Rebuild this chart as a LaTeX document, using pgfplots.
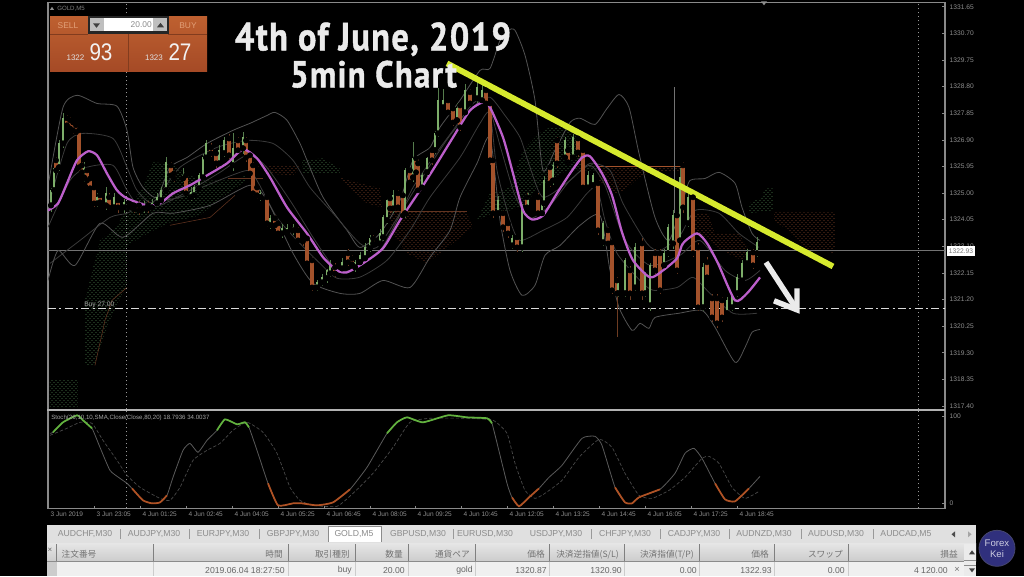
\documentclass[border=0pt]{standalone}
\usepackage{graphicx}
\usepackage{fontspec}
\setmainfont{Liberation Sans}
\newfontfamily\cjk{Noto Sans CJK JP}
\newfontfamily\titlefont[LetterSpace=4,FakeBold=1.2]{PT Sans}
\usepackage{pgfplots}
\usepackage{pgfplotstable}
\pgfplotsset{compat=1.18}
\usetikzlibrary{patterns}
\definecolor{cup}{HTML}{7DAE6A}
\definecolor{cdn}{HTML}{A3522B}
\definecolor{wup}{HTML}{557C4C}
\definecolor{wdn}{HTML}{6E3C22}
\definecolor{pur}{HTML}{BC5FCB}
\definecolor{bbo}{HTML}{525252}
\definecolor{bbi}{HTML}{3A3A3A}
\definecolor{cg}{HTML}{3A5F3A}
\definecolor{co}{HTML}{633420}
\definecolor{frm}{HTML}{8A8A8A}
\definecolor{tk}{HTML}{8E8E8E}
\definecolor{tabt}{HTML}{8C8C8C}
\definecolor{yel}{HTML}{D6EA2E}
\definecolor{sgl}{HTML}{4A4A4A}
\definecolor{smn}{HTML}{5A5A5A}
\definecolor{sgr}{HTML}{62B23E}
\definecolor{sor}{HTML}{B05224}
% columns: x position on the time axis, open, close, low, high
\pgfplotstableread{
x o c l h
51 1324.56 1325.10 1324.31 1325.17
54 1325.10 1325.88 1325.00 1326.00
59 1325.92 1326.77 1325.80 1326.90
63 1326.77 1327.67 1326.60 1327.85
84 1325.56 1325.99 1325.40 1326.10
97 1324.63 1324.85 1324.50 1325.00
106 1324.56 1324.99 1324.40 1325.20
114 1324.49 1324.85 1324.40 1325.00
124 1324.49 1324.67 1324.30 1324.80
144 1324.45 1324.56 1324.30 1324.70
152 1324.49 1324.63 1324.40 1324.80
157 1324.63 1324.85 1324.50 1325.00
161 1324.74 1325.10 1324.60 1325.20
166 1325.10 1326.10 1325.00 1326.30
183 1325.52 1325.63 1325.40 1325.90
191 1324.85 1325.03 1324.70 1325.20
194 1324.92 1325.20 1324.80 1325.30
199 1325.17 1325.63 1325.10 1325.70
203 1325.56 1326.27 1325.50 1326.40
206 1326.27 1326.77 1326.20 1326.90
219 1326.06 1326.53 1325.90 1326.70
224 1326.42 1326.88 1326.30 1327.00
233 1325.99 1326.60 1325.80 1327.13
243 1326.60 1326.99 1326.40 1327.17
260 1324.85 1324.99 1324.70 1325.10
270 1323.85 1324.10 1323.70 1324.20
282 1323.56 1323.74 1323.40 1323.90
287 1323.60 1323.74 1323.50 1323.90
293 1323.67 1323.78 1323.50 1323.90
317 1321.63 1321.81 1321.50 1321.90
322 1321.81 1321.99 1321.70 1322.10
327 1321.96 1322.24 1321.80 1322.30
330 1322.13 1322.42 1322.00 1322.60
342 1322.31 1322.53 1322.20 1322.70
355 1322.35 1322.53 1322.20 1322.60
360 1322.53 1322.78 1322.40 1322.90
365 1322.67 1323.06 1322.60 1323.20
370 1323.03 1323.38 1322.90 1323.50
380 1323.20 1323.56 1323.10 1323.70
383 1323.42 1324.13 1323.30 1324.20
387 1324.03 1324.74 1323.90 1324.80
393 1324.45 1324.92 1324.30 1325.10
405 1324.28 1325.81 1324.10 1325.90
413 1325.56 1326.24 1325.40 1326.81
422 1325.20 1325.63 1325.10 1325.70
427 1325.74 1326.24 1325.60 1326.30
435 1326.53 1327.13 1326.40 1327.20
438 1327.13 1328.31 1327.00 1328.74
443 1328.06 1328.31 1328.00 1328.70
457 1327.60 1328.02 1327.50 1328.20
465 1327.88 1328.67 1327.80 1328.90
477 1328.38 1328.77 1328.20 1329.00
482 1328.31 1328.67 1328.20 1328.90
498 1324.28 1324.74 1324.20 1324.90
512 1323.13 1323.38 1323.00 1323.50
522 1323.06 1324.49 1322.90 1324.60
528 1324.38 1324.85 1324.30 1325.00
542 1324.28 1324.63 1324.20 1324.70
544 1324.63 1325.45 1324.50 1325.60
553 1325.45 1325.99 1325.30 1326.10
565 1326.27 1326.88 1326.20 1327.00
573 1326.27 1326.99 1326.20 1327.10
588 1325.20 1325.63 1325.10 1325.80
593 1325.28 1325.63 1325.20 1325.70
603 1323.24 1323.92 1323.10 1324.00
618 1321.42 1321.78 1321.30 1321.90
625 1321.42 1322.60 1321.30 1322.70
635 1321.63 1323.06 1321.50 1323.20
645 1321.42 1322.13 1321.30 1322.20
650 1320.99 1322.42 1320.80 1322.50
664 1322.42 1322.85 1322.30 1323.00
668 1322.85 1323.78 1322.70 1323.90
673 1323.20 1324.20 1323.00 1324.40
680 1323.31 1325.56 1323.20 1325.90
688 1323.92 1324.85 1323.80 1325.00
703 1320.92 1322.35 1320.80 1322.50
727 1320.71 1321.17 1320.60 1321.30
732 1320.92 1321.35 1320.80 1321.40
737 1321.42 1321.99 1321.30 1322.10
742 1321.88 1322.49 1321.80 1322.60
747 1322.49 1322.88 1322.40 1323.00
757 1322.85 1323.24 1322.70 1323.42
}\upcandles
\pgfplotstableread{
x o c l h
56 1326.17 1325.81 1325.70 1326.30
67 1327.67 1327.42 1327.30 1327.80
70 1327.60 1327.31 1327.20 1327.70
73 1327.52 1327.24 1327.10 1327.60
76 1327.42 1327.17 1327.10 1327.50
79 1327.24 1325.92 1325.80 1327.30
82 1325.99 1325.74 1325.60 1326.10
87 1325.81 1325.45 1325.30 1325.90
90 1325.52 1325.17 1325.10 1325.60
94 1325.20 1324.63 1324.50 1325.30
100 1324.92 1324.67 1324.60 1325.00
109 1324.85 1324.49 1324.40 1325.00
118 1324.74 1324.49 1324.30 1324.80
129 1324.63 1324.49 1324.40 1324.80
134 1324.56 1324.42 1324.30 1324.70
139 1324.56 1324.38 1324.20 1324.70
148 1324.56 1324.45 1324.30 1324.70
171 1325.99 1325.63 1325.50 1326.10
174 1325.70 1325.52 1325.40 1325.80
186 1325.63 1324.99 1324.90 1325.70
211 1326.63 1326.42 1326.30 1326.80
216 1326.42 1326.06 1325.90 1326.50
229 1326.95 1326.35 1326.20 1327.10
238 1326.88 1326.53 1326.40 1327.00
246 1326.88 1326.27 1326.10 1327.00
250 1326.35 1325.70 1325.60 1326.40
253 1325.99 1324.99 1324.90 1326.10
257 1325.20 1324.92 1324.80 1325.30
267 1324.85 1323.92 1323.80 1324.90
275 1324.10 1323.85 1323.70 1324.20
278 1323.92 1323.56 1323.50 1324.00
298 1323.67 1323.31 1323.20 1323.80
303 1323.42 1323.28 1323.10 1323.50
307 1323.38 1322.49 1322.40 1323.50
312 1322.60 1321.63 1321.50 1322.70
335 1322.35 1322.13 1322.00 1322.50
348 1322.85 1322.53 1322.40 1323.00
352 1322.67 1322.46 1322.30 1322.80
373 1323.38 1323.20 1323.10 1323.50
390 1324.81 1324.45 1324.30 1324.90
398 1324.99 1324.49 1324.40 1325.10
403 1324.92 1324.20 1324.10 1325.00
410 1325.81 1325.38 1325.30 1325.90
416 1326.24 1325.74 1325.60 1326.30
418 1326.06 1325.10 1325.00 1326.20
432 1326.53 1326.17 1326.00 1326.60
448 1328.31 1327.88 1327.80 1328.40
453 1328.02 1327.52 1327.40 1328.10
460 1328.13 1327.35 1327.20 1328.20
470 1328.60 1328.20 1328.10 1328.70
486 1328.67 1328.20 1328.10 1328.80
490 1328.20 1326.17 1326.00 1328.30
493 1326.17 1324.28 1324.10 1326.30
503 1324.28 1323.78 1323.60 1324.40
508 1323.92 1323.56 1323.40 1324.00
517 1323.42 1323.06 1322.90 1323.50
527 1324.85 1324.49 1324.40 1325.00
538 1324.85 1324.28 1324.20 1325.00
550 1325.92 1325.35 1325.20 1326.00
557 1326.88 1326.06 1325.90 1327.00
568 1326.53 1326.10 1326.00 1326.60
578 1326.95 1326.45 1326.30 1327.10
583 1326.53 1325.20 1325.10 1326.60
598 1325.35 1323.67 1323.50 1325.40
608 1323.67 1323.20 1323.10 1323.80
612 1323.24 1321.53 1321.40 1323.30
617 1321.88 1321.42 1319.85 1322.00
630 1322.24 1321.42 1321.20 1322.40
642 1323.20 1321.42 1321.20 1323.40
655 1322.85 1322.24 1322.10 1323.00
660 1322.85 1321.53 1321.40 1323.00
677 1324.20 1322.24 1322.10 1324.30
683 1325.99 1324.49 1324.30 1326.10
693 1324.85 1322.85 1322.70 1325.00
698 1323.06 1320.92 1320.80 1323.20
707 1322.53 1321.99 1321.90 1322.70
712 1321.24 1320.56 1320.40 1321.40
717 1321.24 1320.35 1320.20 1321.40
722 1321.17 1320.56 1320.40 1321.30
753 1322.88 1322.42 1322.30 1323.00
}\downcandles
\pgfplotstableread{
x s
50 80.4
53 81.6
63 93.1
77 101.1
83 95.4
92 86.2
100 64.3
110 37.9
120 28.7
127 23.0
132 17.2
143 3.4
152 0
160 1.1
167 9.2
173 29.9
183 60.9
190 68.9
198 58.6
207 72.4
217 83.9
225 96.5
237 90.8
245 93.1
249 87.3
257 60.9
268 23.0
278 -2.3
293 0
302 0
317 -2.3
333 1.1
350 16.1
367 41.4
387 80.4
397 93.1
407 98.8
423 93.1
448 101.1
467 98.8
487 97.7
492 91.9
507 23.0
512 6.9
519 -3.4
529 6.9
539 17.2
549 29.9
562 43.7
582 74.7
595 77.0
602 66.6
615 18.4
625 1.1
632 0
639 6.9
660 16.1
675 34.5
685 57.5
694 63.2
702 51.7
715 23.0
725 4.6
735 2.3
749 17.2
760 31.0
}\stochmain
\pgfplotstableread{
x s
50 78.1
67 86.2
80 93.1
92 91.9
103 72.4
117 49.4
127 32.2
140 18.4
160 5.7
170 3.4
180 18.4
193 49.4
207 60.9
220 68.9
233 83.9
247 93.1
263 81.6
277 57.5
290 18.4
300 3.4
313 -2.3
337 -3.4
353 11.5
373 34.5
393 64.3
410 93.1
430 97.7
467 97.7
493 95.4
507 80.4
515 46.0
525 14.9
535 5.7
545 11.5
562 26.4
579 52.9
599 73.5
612 64.3
625 34.5
639 9.2
652 5.7
669 14.9
685 29.9
702 51.7
709 54.0
719 46.0
732 18.4
745 5.7
759 13.8
}\stochsignal
\begin{document}
\begin{tikzpicture}
\begin{scope}[x=0.75pt,y=-0.75pt]
\useasboundingbox (0,0) rectangle (1024,576);
\fill[black] (0,0) rectangle (1024,576);
\end{scope}
% ---------- price panel ----------
\begin{axis}[
  at={(36pt,-306.75pt)},anchor=south west,
  scale only axis,width=672.75pt,height=305.25pt,
  xmin=48,xmax=945,ymin=1317.28,ymax=1331.81,
  axis line style={frm,line width=0.8pt},
  xtick=\empty,
  ytick={1317.40,1318.35,1319.30,1320.25,1321.20,1322.15,1323.10,1324.05,1325.00,1325.95,1326.90,1327.85,1328.80,1329.75,1330.70,1331.65},
  ytick pos=right,yticklabel pos=right,
  tick style={frm,line width=0.5pt},major tick length=2pt,
  yticklabel style={font=\fontsize{5}{6}\selectfont,text=tk,xshift=0pt,
    /pgf/number format/.cd,fixed,fixed zerofill,precision=2,1000 sep={},assume math mode=true},
]
% clouds
\addplot[draw=none,forget plot,pattern=crosshatch dots,pattern color=cg] coordinates {(50,1318.31)(78,1318.31)(78,1317.35)(50,1317.35)(50,1318.31)};
\addplot[draw=none,forget plot,pattern=crosshatch dots,pattern color=cg] coordinates {(85,1321.17)(100,1323.31)(115,1323.74)(130,1324.56)(143,1325.20)(153,1326.10)(170,1326.06)(190,1325.63)(200,1325.45)(230,1325.45)(247,1325.63)(247,1325.45)(225,1324.92)(200,1324.20)(170,1323.95)(150,1323.60)(127,1323.13)(127,1321.71)(110,1320.46)(95,1318.85)(85,1318.85)(85,1321.17)};
\addplot[co,line width=0.4pt,forget plot] coordinates {(95,1318.85)(105,1320.46)(112,1321.17)(127,1321.63)};
\addplot[co,line width=0.4pt,forget plot] coordinates {(170,1323.85)(210,1324.13)(235,1324.92)};
\addplot[draw=none,forget plot,pattern=crosshatch dots,pattern color=cg] coordinates {(302,1326.17)(323,1326.24)(340,1325.88)(340,1325.70)(303,1325.70)(302,1326.17)};
\addplot[draw=none,forget plot,pattern=crosshatch dots,pattern color=co] coordinates {(257,1325.99)(302,1325.99)(293,1325.63)(267,1325.70)(257,1325.99)};
\addplot[co,line width=0.6pt,forget plot] coordinates {(228,1325.53)(263,1325.53)};
\addplot[draw=none,forget plot,pattern=crosshatch dots,pattern color=co] coordinates {(340,1325.56)(357,1325.38)(380,1325.17)(382,1324.49)(367,1324.63)(353,1325.10)(340,1325.56)};
\addplot[draw=none,forget plot,pattern=crosshatch dots,pattern color=co] coordinates {(388,1324.38)(467,1324.31)(473,1323.78)(453,1323.20)(427,1322.49)(407,1322.85)(393,1323.56)(388,1324.38)};
\addplot[co,line width=0.6pt,forget plot] coordinates {(388,1324.36)(467,1324.36)};
\addplot[draw=none,forget plot,pattern=crosshatch dots,pattern color=cg] coordinates {(477,1324.03)(490,1324.99)(510,1325.20)(523,1326.53)(539,1327.13)(550,1327.35)(567,1327.35)(577,1326.99)(583,1326.06)(597,1326.06)(597,1325.81)(567,1325.81)(537,1325.20)(527,1324.63)(510,1324.38)(493,1324.28)(477,1324.03)};
\addplot[draw=none,forget plot,pattern=crosshatch dots,pattern color=co] coordinates {(599,1325.95)(685,1325.95)(685,1325.81)(650,1325.74)(639,1325.56)(625,1325.10)(615,1324.99)(599,1325.45)(599,1325.95)};
\addplot[cdn,line width=0.7pt,forget plot] coordinates {(599,1325.95)(685,1325.95)};
\addplot[draw=none,forget plot,pattern=crosshatch dots,pattern color=co] coordinates {(695,1324.28)(709,1324.28)(715,1323.56)(739,1323.56)(749,1322.95)(742,1322.60)(722,1322.95)(709,1323.31)(695,1323.67)(695,1324.28)};
\addplot[draw=none,forget plot,pattern=crosshatch dots,pattern color=cg] coordinates {(749,1324.63)(762,1324.85)(765,1325.17)(773,1325.17)(773,1324.38)(749,1324.28)(749,1324.63)};
\addplot[draw=none,forget plot,pattern=crosshatch dots,pattern color=co] coordinates {(774,1324.31)(835,1324.31)(835,1322.85)(805,1323.03)(792,1323.56)(774,1324.03)(774,1324.31)};
% price lines
\addplot[color=black!55!white,line width=0.7pt,forget plot] coordinates {(48,1322.95)(945,1322.95)};
\addplot[white,opacity=0.85,line width=0.7pt,dash pattern=on 6pt off 2.5pt on 1.5pt off 2.5pt,forget plot] coordinates {(48,1320.88)(945,1320.88)};
\addplot[white,opacity=0.6,line width=0.6pt,dash pattern=on 1pt off 2pt,forget plot] coordinates {(126,1317.28)(126,1331.81)};
\addplot[white,opacity=0.6,line width=0.6pt,dash pattern=on 1pt off 2pt,forget plot] coordinates {(918,1317.28)(918,1331.81)};
% Bollinger bands
\addplot[bbo,line width=0.6pt,smooth,tension=0.4,forget plot] coordinates {(49,1325.45)(63,1328.06)(77,1328.49)(97,1328.20)(117,1328.10)(127,1327.24)(133,1325.92)(143,1325.20)(157,1324.85)(170,1325.92)(187,1326.27)(207,1326.77)(233,1327.24)(250,1327.49)(267,1327.77)(275,1327.88)(287,1327.60)(300,1326.77)(307,1326.17)(323,1324.85)(347,1323.67)(360,1323.06)(380,1323.56)(400,1324.74)(413,1326.17)(430,1326.63)(440,1327.35)(460,1328.31)(480,1329.38)(490,1329.45)(500,1330.45)(508,1330.81)(515,1330.81)(525,1329.92)(535,1328.31)(543,1325.81)(555,1326.53)(570,1327.52)(580,1327.67)(595,1327.45)(607,1328.02)(619,1328.52)(629,1328.06)(639,1326.42)(655,1324.13)(669,1323.31)(683,1324.74)(690,1325.45)(705,1325.52)(719,1325.74)(735,1325.35)(742,1324.49)(752,1323.56)(760,1323.31)};
\addplot[bbi,line width=0.6pt,smooth,tension=0.4,forget plot] coordinates {(50,1324.74)(67,1326.77)(83,1327.13)(113,1326.95)(127,1325.92)(137,1325.10)(153,1324.67)(180,1325.92)(217,1326.63)(247,1326.88)(273,1326.77)(293,1326.17)(310,1325.20)(333,1324.28)(360,1323.20)(377,1323.06)(400,1324.28)(413,1325.20)(433,1326.27)(453,1327.24)(473,1328.20)(490,1328.42)(505,1327.77)(520,1326.99)(530,1325.92)(543,1324.85)(570,1325.45)(590,1326.06)(610,1325.81)(623,1324.63)(647,1323.20)(660,1322.95)(680,1323.49)(695,1324.38)(719,1324.28)(739,1323.56)(759,1323.06)};
\addplot[bbi,line width=0.6pt,smooth,tension=0.4,forget plot] coordinates {(48,1323.78)(70,1325.45)(87,1325.92)(113,1325.99)(127,1325.10)(140,1324.49)(160,1324.56)(190,1325.10)(220,1325.74)(247,1326.35)(265,1325.99)(290,1324.74)(315,1323.31)(335,1322.31)(350,1322.24)(380,1322.95)(405,1324.56)(430,1325.99)(450,1327.06)(475,1328.13)(487,1328.31)(500,1326.70)(515,1324.92)(530,1324.10)(550,1324.56)(570,1325.45)(590,1325.99)(605,1325.28)(625,1323.31)(650,1322.42)(680,1322.78)(700,1323.31)(725,1322.24)(745,1321.88)(760,1322.24)};
\addplot[bbi,line width=0.6pt,smooth,tension=0.4,forget plot] coordinates {(50,1322.49)(80,1323.31)(110,1324.13)(127,1324.28)(147,1324.63)(180,1324.85)(207,1325.28)(247,1325.81)(257,1325.45)(277,1324.13)(300,1323.20)(320,1322.49)(337,1321.96)(360,1322.00)(387,1322.60)(410,1323.67)(430,1324.85)(460,1326.27)(480,1327.49)(490,1327.85)(497,1325.81)(510,1324.03)(520,1323.31)(543,1323.67)(567,1324.13)(587,1324.99)(597,1325.20)(605,1324.03)(617,1322.85)(640,1321.88)(653,1321.53)(677,1321.63)(693,1321.99)(710,1321.42)(733,1320.71)(757,1320.71)};
\addplot[bbo,line width=0.6pt,smooth,tension=0.4,forget plot] coordinates {(48,1321.88)(58,1322.95)(75,1322.42)(100,1323.92)(123,1323.42)(153,1324.28)(173,1324.28)(210,1324.56)(250,1325.28)(267,1324.74)(293,1322.85)(313,1321.78)(340,1321.42)(360,1321.42)(383,1321.88)(410,1321.63)(430,1322.71)(450,1323.67)(460,1324.85)(477,1326.06)(490,1326.99)(500,1324.03)(510,1322.24)(522,1321.35)(535,1321.71)(545,1322.78)(560,1323.13)(580,1323.85)(600,1324.20)(610,1322.24)(619,1320.92)(632,1320.10)(640,1320.35)(649,1320.17)(655,1320.56)(679,1320.71)(702,1320.81)(715,1320.21)(735,1318.96)(745,1319.49)(752,1320.03)(760,1320.13)};
% candles: wicks, then bodies
\addplot[color=black!55!white,line width=0.5pt,forget plot] coordinates {(674,1324.3)(674,1328.80)};
\addplot[only marks,mark=none,forget plot,error bars/.cd,y dir=both,y explicit,error mark=none,error bar style={line width=0.6pt,wup}]
  table[x=x,y=o,y error plus expr=\thisrow{h}-\thisrow{o},y error minus expr=\thisrow{o}-\thisrow{l}] {\upcandles};
\addplot[only marks,mark=none,forget plot,error bars/.cd,y dir=both,y explicit,error mark=none,error bar style={line width=0.6pt,wdn}]
  table[x=x,y=o,y error plus expr=\thisrow{h}-\thisrow{o},y error minus expr=\thisrow{o}-\thisrow{l}] {\downcandles};
\addplot[only marks,mark=none,forget plot,error bars/.cd,y dir=plus,y explicit,error mark=none,error bar style={line width=2.5pt,cdn}]
  table[x=x,y=c,y error plus expr=\thisrow{o}-\thisrow{c}] {\downcandles};
\addplot[only marks,mark=none,forget plot,error bars/.cd,y dir=plus,y explicit,error mark=none,error bar style={line width=2.1pt,cup}]
  table[x=x,y=o,y error plus expr=\thisrow{c}-\thisrow{o}] {\upcandles};
% moving average
\addplot[pur,line width=1.7pt,smooth,tension=0.4,forget plot] coordinates {(48,1324.38)(58,1324.63)(67,1325.35)(77,1326.17)(88,1326.49)(97,1326.35)(107,1325.70)(117,1325.10)(127,1324.81)(147,1324.56)(160,1324.63)(173,1324.99)(190,1325.28)(207,1325.63)(227,1326.06)(243,1326.56)(257,1326.24)(270,1325.56)(287,1324.49)(307,1323.56)(323,1322.71)(337,1322.24)(347,1322.17)(363,1322.49)(383,1323.03)(400,1324.03)(420,1325.10)(437,1326.06)(453,1326.99)(470,1327.95)(483,1328.24)(490,1328.06)(503,1326.99)(513,1325.70)(523,1324.38)(532,1324.06)(543,1324.20)(557,1324.99)(570,1325.70)(582,1326.27)(590,1326.31)(602,1325.70)(612,1324.92)(622,1323.60)(633,1322.60)(650,1321.99)(663,1322.24)(677,1322.67)(683,1323.21)(697,1323.56)(707,1323.21)(718,1322.49)(735,1321.17)(747,1321.42)(760,1321.99)};
% trend line
\addplot[yel,line width=4.4pt,forget plot] coordinates {(447,1329.63)(833,1322.38)};
\end{axis}
% ---------- stochastic panel ----------
\begin{axis}[
  at={(36pt,-381pt)},anchor=south west,
  scale only axis,width=672.75pt,height=74.25pt,
  xmin=48,xmax=945,ymin=-5.7,ymax=108,
  axis line style={frm,line width=0.8pt},
  xtick={48,94,140,186,232,278,324,370,415,461,507,553,599,645,691,737},
  xticklabels={3 Jun 2019,3 Jun 23:05,4 Jun 01:25,4 Jun 02:45,4 Jun 04:05,4 Jun 05:25,4 Jun 06:45,4 Jun 08:05,4 Jun 09:25,4 Jun 10:45,4 Jun 12:05,4 Jun 13:25,4 Jun 14:45,4 Jun 16:05,4 Jun 17:25,4 Jun 18:45},
  xtick pos=bottom,
  xticklabel style={font=\fontsize{4.9}{6}\selectfont,text=tk,anchor=north west,xshift=-1.5pt,yshift=0.5pt},
  ytick={0,100},ytick pos=right,yticklabel pos=right,
  tick style={frm,line width=0.5pt},major tick length=2pt,
  yticklabel style={font=\fontsize{5}{6}\selectfont,text=tk,/pgf/number format/assume math mode=true},
]
\addplot[white,opacity=0.6,line width=0.6pt,dash pattern=on 1pt off 2pt,forget plot] coordinates {(126,-5.7)(126,108)};
\addplot[white,opacity=0.6,line width=0.6pt,dash pattern=on 1pt off 2pt,forget plot] coordinates {(918,-5.7)(918,108)};
\addplot[sgl,line width=0.5pt,dash pattern=on 2.5pt off 1.5pt,smooth,tension=0.3,forget plot] table[x=x,y=s] {\stochsignal};
\addplot[smn,line width=0.6pt,smooth,tension=0.3,forget plot] table[x=x,y=s] {\stochmain};
\addplot[sgr,line width=1.3pt,smooth,tension=0.3,forget plot,restrict x to domain=53:92] table[x=x,y=s] {\stochmain};
\addplot[sgr,line width=1.3pt,smooth,tension=0.3,forget plot,restrict x to domain=217:249] table[x=x,y=s] {\stochmain};
\addplot[sgr,line width=1.3pt,smooth,tension=0.3,forget plot,restrict x to domain=387:492] table[x=x,y=s] {\stochmain};
\addplot[sor,line width=1.3pt,smooth,tension=0.3,forget plot,restrict x to domain=132:167] table[x=x,y=s] {\stochmain};
\addplot[sor,line width=1.3pt,smooth,tension=0.3,forget plot,restrict x to domain=268:350] table[x=x,y=s] {\stochmain};
\addplot[sor,line width=1.3pt,smooth,tension=0.3,forget plot,restrict x to domain=512:539] table[x=x,y=s] {\stochmain};
\addplot[sor,line width=1.3pt,smooth,tension=0.3,forget plot,restrict x to domain=615:660] table[x=x,y=s] {\stochmain};
\addplot[sor,line width=1.3pt,smooth,tension=0.3,forget plot,restrict x to domain=715:749] table[x=x,y=s] {\stochmain};
\end{axis}
% ---------- overlays in pixel positions ----------
\begin{scope}[x=0.75pt,y=-0.75pt]
% divider between panels
\draw[color=black!30!white,line width=1.5pt] (47,409.5)--(945,409.5);
% chart name
\fill[tk] (50,9.5)--(54,9.5)--(52,6.5)--cycle;
\node[anchor=west,text=black!50!white,font=\fontsize{4.6}{5}\selectfont,inner sep=0] at (57,8) {GOLD,M5};
\fill[tk] (761,1)--(767,1)--(764,5)--cycle;
% one-click panel
\shade[top color={rgb,255:red,190;green,96;blue,48},bottom color={rgb,255:red,165;green,74;blue,38}] (50,16) rectangle (207,71);
\draw[color={rgb,255:red,130;green,60;blue,30},line width=0.6pt] (50,34)--(88,34) (168,34)--(207,34) (128.5,34)--(128.5,71);
\fill[black!85] (88,16) rectangle (169,33.5);
\fill[black!25!white] (90,18) rectangle (104,31);
\fill[black!25!white] (153,18) rectangle (167,31);
\fill[white] (104,18) rectangle (153,31);
\fill[black!75] (93,23)--(100,23)--(96.5,27.5)--cycle;
\fill[black!75] (157,27)--(164,27)--(160.5,22.5)--cycle;
\node[text=black!45!white,font=\fontsize{6.3}{7}\selectfont,anchor=east,inner sep=0] at (152,24.5) {20.00};
\node[text={rgb,255:red,226;green,160;blue,120},font=\fontsize{6.3}{7}\selectfont,inner sep=0] at (68,25) {SELL};
\node[text={rgb,255:red,226;green,160;blue,120},font=\fontsize{6.3}{7}\selectfont,inner sep=0] at (188,25) {BUY};
\node[text=black!12!white,font=\fontsize{6}{7}\selectfont,inner sep=0] at (75.5,57) {1322};
\node[text=black!5!white,font=\fontsize{18}{20}\selectfont,inner sep=0] at (101,52) {\scalebox{0.86}[1]{93}};
\node[text=black!12!white,font=\fontsize{6}{7}\selectfont,inner sep=0] at (154,57) {1323};
\node[text=black!5!white,font=\fontsize{18}{20}\selectfont,inner sep=0] at (180,52) {\scalebox{0.86}[1]{27}};
% order label
\node[anchor=west,text=black!35!white,font=\fontsize{5}{6}\selectfont,inner sep=0] at (84,304.5) {Buy 27.00};
\node[anchor=west,text=black!35!white,font=\fontsize{4.6}{6}\selectfont,inner sep=0] at (51,417.5) {Stoch(26,10,10,SMA,Close/Close,80,20) 18.7936 34.0037};
% current price
\fill[white] (947,246) rectangle (975,255.5);
\node[text=black!55!white,font=\fontsize{5}{6}\selectfont,inner sep=0] at (961,251) {1322.93};
% title
\node[anchor=base,inner sep=0,text=black!8!white] at (373,50) {\titlefont\bfseries\resizebox{207pt}{21pt}{4th of June, 2019}};
\node[anchor=base,inner sep=0,text=black!8!white] at (373.5,87) {\titlefont\bfseries\resizebox{125pt}{20pt}{5min Chart}};
% arrow
\draw[white!92!black,line width=4.1pt] (766,262)--(796,308);
\draw[white!92!black,line width=4.1pt] (774,300.5)--(797,309.5)--(797,288);
% ---------- order window ----------
\fill[black!12!white] (47,525) rectangle (976,543);
\fill[white] (328,526) rectangle (381,541.5);
\draw[color=black!45!white,line width=0.5pt] (328,541.5)--(328,526)--(381,526)--(381,541.5);
\foreach \x in {120,189.5,259,453,591,660,729,801,873} {\draw[color=black!40!white,line width=0.5pt] (\x,529)--(\x,539);}
\foreach \x/\t in {85/{AUDCHF,M30},154/{AUDJPY,M30},223/{EURJPY,M30},293/{GBPJPY,M30},354/{GOLD,M5},418/{GBPUSD,M30},485/{EURUSD,M30},556/{USDJPY,M30},625/{CHFJPY,M30},694/{CADJPY,M30},764/{AUDNZD,M30},836/{AUDUSD,M30},906/{AUDCAD,M5}} {
  \node[text=tabt,font=\fontsize{6.5}{7}\selectfont,inner sep=0] at (\x,534) {\t};}
\fill[black!70] (955,531)--(955,537)--(951.5,534)--cycle;
\fill[black!35!white] (968,531)--(968,537)--(971.5,534)--cycle;
\shade[top color=black!10!white,bottom color=black!20!white] (47,543) rectangle (976,561);
\draw[color=black!45!white,line width=0.8pt] (47,561)--(964,561);
\fill[black!6!white] (47,562) rectangle (976,576);
\fill[black!20!white] (47,562) rectangle (56,576);
\node[text=black!60!white,font=\fontsize{6}{6}\selectfont,inner sep=0] at (50,550) {×};
\foreach \x in {56,153,288,355,408,475,549,624,699,774,848,964} {\draw[color=black!50!white,line width=0.4pt] (\x,544)--(\x,561);\draw[color=black!20!white,line width=0.3pt] (\x,562)--(\x,576);}
\node[text=black!55!white,font=\fontsize{6.5}{7}\selectfont\cjk,inner sep=0] at (79,554) {注文番号};
\foreach \x/\t in {283/{時間},350/{取引種別},403/{数量},470/{通貨ペア},545/{価格},619/{決済逆指値(S/L)},694/{決済指値(T/P)},769/{価格},843/{スワップ},958/{損益}} {
  \node[anchor=east,text=black!55!white,font=\fontsize{6.5}{7}\selectfont\cjk,inner sep=0] at (\x,554) {\t};}
\foreach \x/\t in {285/{2019.06.04 18:27:50},352/{buy},405/{20.00},473/{gold},547/{1320.87},622/{1320.90},697/{0.00},772/{1322.93},845/{0.00},948/{4 120.00}} {
  \node[anchor=east,text=black!60!white,font=\fontsize{6.5}{7}\selectfont,inner sep=0] at (\x,570) {\t};}
\node[text=black!55!white,font=\fontsize{7}{7}\selectfont,inner sep=0] at (957,570) {×};
\fill[black!8!white] (964,544) rectangle (976,576);
\draw[color=black!45!white,line width=0.4pt] (964,560)--(976,560) (964,565)--(976,565);
\fill[black!75] (969,554)--(975,554)--(972,550)--cycle;
\fill[black!75] (969,568)--(975,568)--(972,572)--cycle;
% logo
\fill[color={rgb,255:red,48;green,48;blue,125}] (997,548) circle (18);
\draw[color={rgb,255:red,70;green,70;blue,110},line width=0.6pt] (997,548) circle (18);
\node[text={rgb,255:red,205;green,205;blue,225},font=\fontsize{7.2}{8}\selectfont,inner sep=0] at (997,543) {Forex};
\node[text={rgb,255:red,205;green,205;blue,225},font=\fontsize{7.2}{8}\selectfont,inner sep=0] at (997,554) {Kei};
\end{scope}
\end{tikzpicture}
\end{document}
